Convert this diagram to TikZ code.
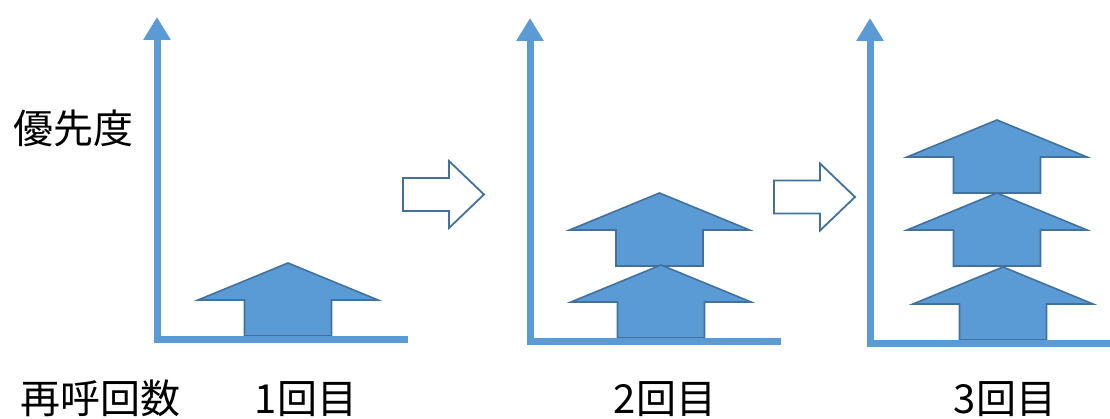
\documentclass[tikz,border=0pt]{standalone}
\usepackage{fontspec}
\setmainfont{Noto Sans CJK JP}
\usetikzlibrary{arrows.meta}

\definecolor{prioblue}{HTML}{5B9BD5}
\definecolor{prioedge}{HTML}{41719C}

\tikzset{
    axis/.style={draw=prioblue, line width=7pt, line join=miter},
    axtip/.style={-{Triangle[width=26pt,length=23pt]}},
    blk/.style={fill=prioblue, draw=prioedge, line width=1.6pt},
    % upward block arrow, placed at the middle of its bottom edge
    prio/.pic={\draw[blk] (-43.5,0) -- (-43.5,36) -- (-90,36) -- (0,73) -- (90,36) -- (43.5,36) -- (43.5,0) -- cycle;},
    % hollow arrow to the next round, placed at the middle of its tail
    nextarr/.pic={\draw[draw=prioedge, fill=white, line width=1.8pt] (0,-16.5) -- (46,-16.5) -- (46,-33.5) -- (81,0) -- (46,33.5) -- (46,16.5) -- (0,16.5) -- cycle;},
    lbl/.style={font=\fontsize{40}{48}\selectfont, inner sep=0pt, anchor=base}
}

\begin{document}
\begin{tikzpicture}[x=1pt, y=1pt]
    \useasboundingbox (0,0) rectangle (1110,419);

    % round 1
    \pic at (288,83) {prio};
    \coordinate (x1) at (408,79);
    \coordinate (y1) at (157,402);
    \draw[axis, axtip] (x1) -| (y1);

    \pic at (403,224.5) {nextarr};

    % round 2
    \pic at (659.5,153) {prio};
    \pic at (661,81) {prio};
    \coordinate (x2) at (781,77);
    \coordinate (y2) at (530,401);
    \draw[axis, axtip] (x2) -| (y2);

    \pic at (774,222) {nextarr};

    % round 3
    \pic at (997,226) {prio};
    \pic at (997,153) {prio};
    \pic at (1003,79) {prio};
    \coordinate (x3) at (1112,75);
    \coordinate (y3) at (870,401);
    \draw[axis, axtip] (x3) -| (y3);

    % labels
    \node[lbl] (prio) at (73,275) {優先度};
    \node[lbl] (recall) at (100,5) {再呼回数};
    \node[lbl] (r1) at (306,5) {1回目};
    \node[lbl] (r2) at (665,5) {2回目};
    \node[lbl] (r3) at (1005,5) {3回目};
\end{tikzpicture}
\end{document}
